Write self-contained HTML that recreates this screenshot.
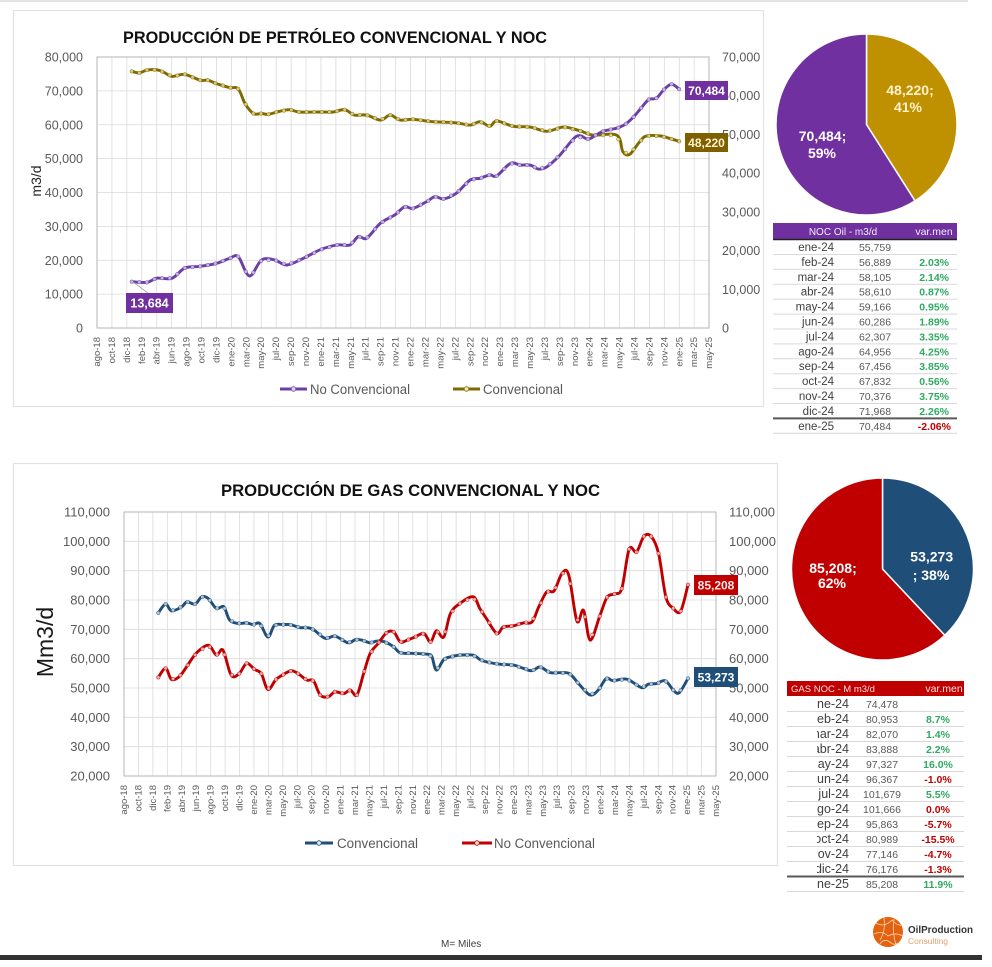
<!DOCTYPE html>
<html><head><meta charset="utf-8"><style>
html,body{margin:0;padding:0;background:#fff;}
svg{display:block;font-family:"Liberation Sans",Arial,sans-serif;}
</style></head><body>
<svg id="s" width="992" height="967" viewBox="0 0 992 967" xmlns="http://www.w3.org/2000/svg">
<rect x="0" y="0" width="992" height="967" fill="#fff"/>
<line x1="0" y1="1" x2="968" y2="1" stroke="#e4e4e4" stroke-width="2"/>
<!-- cards -->
<rect x="13.5" y="10.5" width="750" height="396" fill="#fff" stroke="#e2e2e2" stroke-width="1.2"/>
<rect x="13.5" y="463.5" width="764" height="402" fill="#fff" stroke="#e2e2e2" stroke-width="1.2"/>

<!-- ============ TOP CHART ============ -->
<g id="gridTop"></g>
<rect x="97" y="57" width="612" height="271" fill="none" stroke="#b5b5b5" stroke-width="1"/>
<text x="123" y="43" font-size="17" font-weight="bold" fill="#111" textLength="424" lengthAdjust="spacingAndGlyphs">PRODUCCIÓN DE PETRÓLEO CONVENCIONAL Y  NOC</text>
<g font-size="12.5" fill="#595959" text-anchor="end">
<text x="83" y="332.5">0</text><text x="83" y="298.6">10,000</text><text x="83" y="264.8">20,000</text><text x="83" y="230.9">30,000</text><text x="83" y="197">40,000</text><text x="83" y="163.1">50,000</text><text x="83" y="129.3">60,000</text><text x="83" y="95.4">70,000</text><text x="83" y="61.5">80,000</text>
</g>
<g font-size="12.5" fill="#595959">
<text x="722" y="332.5">0</text><text x="722" y="293.8">10,000</text><text x="722" y="255.1">20,000</text><text x="722" y="216.4">30,000</text><text x="722" y="177.6">40,000</text><text x="722" y="138.9">50,000</text><text x="722" y="100.2">60,000</text><text x="722" y="61.5">70,000</text>
</g>
<text transform="translate(41,181) rotate(-90)" font-size="14" fill="#262626" text-anchor="middle">m3/d</text>
<g transform="translate(100,337) rotate(-90)" font-size="9.5" fill="#595959" text-anchor="end">
<text y="0">ago-18</text><text y="14.93">oct-18</text><text y="29.86">dic-18</text><text y="44.79">feb-19</text><text y="59.72">abr-19</text><text y="74.65">jun-19</text><text y="89.58">ago-19</text><text y="104.51">oct-19</text><text y="119.44">dic-19</text><text y="134.37">ene-20</text><text y="149.3">mar-20</text><text y="164.23">may-20</text><text y="179.16">jul-20</text><text y="194.09">sep-20</text><text y="209.02">nov-20</text><text y="223.95">ene-21</text><text y="238.88">mar-21</text><text y="253.81">may-21</text><text y="268.74">jul-21</text><text y="283.67">sep-21</text><text y="298.6">nov-21</text><text y="313.53">ene-22</text><text y="328.46">mar-22</text><text y="343.39">may-22</text><text y="358.32">jul-22</text><text y="373.25">sep-22</text><text y="388.18">nov-22</text><text y="403.11">ene-23</text><text y="418.04">mar-23</text><text y="432.97">may-23</text><text y="447.9">jul-23</text><text y="462.83">sep-23</text><text y="477.76">nov-23</text><text y="492.69">ene-24</text><text y="507.62">mar-24</text><text y="522.55">may-24</text><text y="537.48">jul-24</text><text y="552.41">sep-24</text><text y="567.34">nov-24</text><text y="582.27">ene-25</text><text y="597.2">mar-25</text><text y="612.13">may-25</text>
</g>
<g id="seriesTop"></g>
<!-- data labels top -->
<line x1="133" y1="282" x2="148" y2="293" stroke="#a6a6a6" stroke-width="0.8"/>
<rect x="126" y="293" width="47" height="20" fill="#7030a0"/>
<text x="149.5" y="307.5" font-size="12.5" font-weight="bold" fill="#fff" text-anchor="middle">13,684</text>
<rect x="685" y="81" width="43" height="19" fill="#7030a0"/>
<text x="706.5" y="95" font-size="12" font-weight="bold" fill="#fff" text-anchor="middle">70,484</text>
<rect x="685" y="133" width="43" height="19" fill="#7f6000"/>
<text x="706.5" y="147" font-size="12" font-weight="bold" fill="#fff2cc" text-anchor="middle">48,220</text>
<!-- legend top -->
<line x1="280" y1="389" x2="307" y2="389" stroke="#6f3fa8" stroke-width="3"/>
<circle cx="293.5" cy="389" r="2.3" fill="#e0d6ee" stroke="#6f3fa8" stroke-width="0.8"/>
<text x="310" y="394" font-size="13.5" fill="#595959" textLength="100" lengthAdjust="spacingAndGlyphs">No Convencional</text>
<line x1="453" y1="389" x2="480" y2="389" stroke="#7f6a00" stroke-width="3"/>
<circle cx="466.5" cy="389" r="2.3" fill="#f2e6b0" stroke="#7f6a00" stroke-width="0.8"/>
<text x="483" y="394" font-size="13.5" fill="#595959" textLength="80" lengthAdjust="spacingAndGlyphs">Convencional</text>

<!-- top pie -->
<path d="M866.5,124.5 L866.5,34 A90.5,90.5 0 0 1 915,200.9 Z" fill="#bf9000" stroke="#fff" stroke-width="1.5"/>
<path d="M866.5,124.5 L915,200.9 A90.5,90.5 0 1 1 866.5,34 Z" fill="#7030a0" stroke="#fff" stroke-width="1.5"/>
<g font-size="14" font-weight="bold" text-anchor="middle">
<text x="910" y="95" fill="#fff2cc">48,220;</text>
<text x="908" y="112" fill="#fff2cc">41%</text>
<text x="822.5" y="141" fill="#fff">70,484;</text>
<text x="822" y="158" fill="#fff">59%</text>
</g>
<!-- top table -->
<rect x="773" y="223" width="184" height="16" fill="#7030a0"/>
<line x1="773" y1="239.5" x2="957" y2="239.5" stroke="#222" stroke-width="1.5"/>
<text x="843" y="235" font-size="10" fill="#f3ecfa" text-anchor="middle">NOC Oil - m3/d</text>
<text x="934" y="235" font-size="10.5" fill="#f3ecfa" text-anchor="middle">var.men</text>
<g stroke="#d9d9d9" stroke-width="1">
<line x1="773" y1="254.5" x2="957" y2="254.5"/><line x1="773" y1="269.4" x2="957" y2="269.4"/><line x1="773" y1="284.3" x2="957" y2="284.3"/><line x1="773" y1="299.2" x2="957" y2="299.2"/><line x1="773" y1="314.1" x2="957" y2="314.1"/><line x1="773" y1="329" x2="957" y2="329"/><line x1="773" y1="343.9" x2="957" y2="343.9"/><line x1="773" y1="358.8" x2="957" y2="358.8"/><line x1="773" y1="373.7" x2="957" y2="373.7"/><line x1="773" y1="388.6" x2="957" y2="388.6"/><line x1="773" y1="403.5" x2="957" y2="403.5"/><line x1="773" y1="433.3" x2="957" y2="433.3"/>
</g>
<line x1="773" y1="418.4" x2="957" y2="418.4" stroke="#595959" stroke-width="2"/>
<g font-size="11.5" fill="#404040" text-anchor="end">
<text x="834" y="251">ene-24</text><text x="834" y="265.9">feb-24</text><text x="834" y="280.8">mar-24</text><text x="834" y="295.7">abr-24</text><text x="834" y="310.6">may-24</text><text x="834" y="325.5">jun-24</text><text x="834" y="340.4">jul-24</text><text x="834" y="355.3">ago-24</text><text x="834" y="370.2">sep-24</text><text x="834" y="385.1">oct-24</text><text x="834" y="400">nov-24</text><text x="834" y="414.9">dic-24</text><text x="834" y="429.8">ene-25</text>
</g>
<g font-size="10.5" fill="#595959" text-anchor="middle">
<text x="875" y="251">55,759</text><text x="875" y="265.9">56,889</text><text x="875" y="280.8">58,105</text><text x="875" y="295.7">58,610</text><text x="875" y="310.6">59,166</text><text x="875" y="325.5">60,286</text><text x="875" y="340.4">62,307</text><text x="875" y="355.3">64,956</text><text x="875" y="370.2">67,456</text><text x="875" y="385.1">67,832</text><text x="875" y="400">70,376</text><text x="875" y="414.9">71,968</text><text x="875" y="429.8">70,484</text>
</g>
<g font-size="10.5" font-weight="bold" fill="#2eaa62" text-anchor="end">
<text x="949" y="265.9">2.03%</text><text x="949" y="280.8">2.14%</text><text x="949" y="295.7">0.87%</text><text x="949" y="310.6">0.95%</text><text x="949" y="325.5">1.89%</text><text x="949" y="340.4">3.35%</text><text x="949" y="355.3">4.25%</text><text x="949" y="370.2">3.85%</text><text x="949" y="385.1">0.56%</text><text x="949" y="400">3.75%</text><text x="949" y="414.9">2.26%</text>
<text x="951" y="429.8" fill="#c00000">-2.06%</text>
</g>

<!-- ============ BOTTOM CHART ============ -->
<g id="gridBot"></g>
<rect x="124" y="512" width="592" height="264" fill="none" stroke="#b5b5b5" stroke-width="1"/>
<text x="221" y="496" font-size="16.5" font-weight="bold" fill="#111" textLength="379" lengthAdjust="spacingAndGlyphs">PRODUCCIÓN DE GAS CONVENCIONAL Y  NOC</text>
<g font-size="13" fill="#595959" text-anchor="end">
<text x="110" y="780.5">20,000</text><text x="110" y="751.2">30,000</text><text x="110" y="721.8">40,000</text><text x="110" y="692.5">50,000</text><text x="110" y="663.2">60,000</text><text x="110" y="633.8">70,000</text><text x="110" y="604.5">80,000</text><text x="110" y="575.2">90,000</text><text x="110" y="545.8">100,000</text><text x="110" y="516.5">110,000</text>
</g>
<g font-size="13" fill="#595959">
<text x="729" y="780.5">20,000</text><text x="729" y="751.2">30,000</text><text x="729" y="721.8">40,000</text><text x="729" y="692.5">50,000</text><text x="729" y="663.2">60,000</text><text x="729" y="633.8">70,000</text><text x="729" y="604.5">80,000</text><text x="729" y="575.2">90,000</text><text x="729" y="545.8">100,000</text><text x="729" y="516.5">110,000</text>
</g>
<text transform="translate(53,642) rotate(-90)" font-size="23" fill="#1a1a1a" text-anchor="middle">Mm3/d</text>
<g transform="translate(127,785) rotate(-90)" font-size="9.5" fill="#595959" text-anchor="end">
<text y="0">ago-18</text><text y="14.44">oct-18</text><text y="28.88">dic-18</text><text y="43.32">feb-19</text><text y="57.76">abr-19</text><text y="72.2">jun-19</text><text y="86.64">ago-19</text><text y="101.08">oct-19</text><text y="115.52">dic-19</text><text y="129.96">ene-20</text><text y="144.4">mar-20</text><text y="158.84">may-20</text><text y="173.28">jul-20</text><text y="187.72">sep-20</text><text y="202.16">nov-20</text><text y="216.6">ene-21</text><text y="231.04">mar-21</text><text y="245.48">may-21</text><text y="259.92">jul-21</text><text y="274.36">sep-21</text><text y="288.8">nov-21</text><text y="303.24">ene-22</text><text y="317.68">mar-22</text><text y="332.12">may-22</text><text y="346.56">jul-22</text><text y="361">sep-22</text><text y="375.44">nov-22</text><text y="389.88">ene-23</text><text y="404.32">mar-23</text><text y="418.76">may-23</text><text y="433.2">jul-23</text><text y="447.64">sep-23</text><text y="462.08">nov-23</text><text y="476.52">ene-24</text><text y="490.96">mar-24</text><text y="505.4">may-24</text><text y="519.84">jul-24</text><text y="534.28">sep-24</text><text y="548.72">nov-24</text><text y="563.16">ene-25</text><text y="577.6">mar-25</text><text y="592.04">may-25</text>
</g>
<g id="seriesBot"></g>
<rect x="694" y="575" width="44" height="20" fill="#c00000"/>
<text x="716" y="589.5" font-size="12" font-weight="bold" fill="#fde9e9" text-anchor="middle">85,208</text>
<rect x="694" y="667" width="44" height="20" fill="#1f4e79"/>
<text x="716" y="681.5" font-size="12" font-weight="bold" fill="#fff" text-anchor="middle">53,273</text>
<!-- legend bottom -->
<line x1="305" y1="843" x2="333" y2="843" stroke="#1f4e79" stroke-width="3"/>
<circle cx="319" cy="843" r="2.3" fill="#dfe8f1" stroke="#1f4e79" stroke-width="0.8"/>
<text x="337" y="848" font-size="13.5" fill="#595959" textLength="81" lengthAdjust="spacingAndGlyphs">Convencional</text>
<line x1="462" y1="843" x2="492" y2="843" stroke="#c00000" stroke-width="3"/>
<circle cx="477" cy="843" r="2.3" fill="#f6dcdc" stroke="#c00000" stroke-width="0.8"/>
<text x="494" y="848" font-size="13.5" fill="#595959" textLength="101" lengthAdjust="spacingAndGlyphs">No Convencional</text>

<!-- bottom pie -->
<path d="M882.5,569 L882.5,478 A91,91 0 0 1 944.8,635.3 Z" fill="#1f4e79" stroke="#fff" stroke-width="1.5"/>
<path d="M882.5,569 L944.8,635.3 A91,91 0 1 1 882.5,478 Z" fill="#c00000" stroke="#fff" stroke-width="1.5"/>
<g font-size="14" font-weight="bold" text-anchor="middle" fill="#fff">
<text x="931.7" y="561.5">53,273</text>
<text x="931" y="580">; 38%</text>
<text x="833" y="573">85,208;</text>
<text x="832" y="588">62%</text>
</g>
<!-- bottom table -->
<rect x="787" y="681" width="177" height="15" fill="#c00000"/>
<text x="833" y="692" font-size="9.5" fill="#fbe3e3" text-anchor="middle">GAS NOC - M m3/d</text>
<text x="944" y="692" font-size="10.5" fill="#fbe3e3" text-anchor="middle">var.men</text>
<g stroke="#d9d9d9" stroke-width="1">
<line x1="787" y1="711.5" x2="964" y2="711.5"/><line x1="787" y1="726.5" x2="964" y2="726.5"/><line x1="787" y1="741.5" x2="964" y2="741.5"/><line x1="787" y1="756.5" x2="964" y2="756.5"/><line x1="787" y1="771.5" x2="964" y2="771.5"/><line x1="787" y1="786.5" x2="964" y2="786.5"/><line x1="787" y1="801.5" x2="964" y2="801.5"/><line x1="787" y1="816.5" x2="964" y2="816.5"/><line x1="787" y1="831.5" x2="964" y2="831.5"/><line x1="787" y1="846.5" x2="964" y2="846.5"/><line x1="787" y1="861.5" x2="964" y2="861.5"/><line x1="787" y1="891.5" x2="964" y2="891.5"/>
</g>
<line x1="787" y1="876.5" x2="964" y2="876.5" stroke="#595959" stroke-width="2"/>
<clipPath id="cm"><rect x="817" y="695" width="40" height="200"/></clipPath>
<g font-size="12.5" fill="#404040" text-anchor="end" clip-path="url(#cm)">
<text x="849" y="708">ene-24</text><text x="849" y="723">feb-24</text><text x="849" y="738">mar-24</text><text x="849" y="753">abr-24</text><text x="849" y="768">may-24</text><text x="849" y="783">jun-24</text><text x="849" y="798">jul-24</text><text x="849" y="813">ago-24</text><text x="849" y="828">sep-24</text><text x="849" y="843">oct-24</text><text x="849" y="858">nov-24</text><text x="849" y="873">dic-24</text><text x="849" y="888">ene-25</text>
</g>
<g font-size="10.5" fill="#595959" text-anchor="middle">
<text x="882" y="708">74,478</text><text x="882" y="723">80,953</text><text x="882" y="738">82,070</text><text x="882" y="753">83,888</text><text x="882" y="768">97,327</text><text x="882" y="783">96,367</text><text x="882" y="798">101,679</text><text x="882" y="813">101,666</text><text x="882" y="828">95,863</text><text x="882" y="843">80,989</text><text x="882" y="858">77,146</text><text x="882" y="873">76,176</text><text x="882" y="888">85,208</text>
</g>
<g font-size="10.5" font-weight="bold" text-anchor="middle">
<text x="938" y="723" fill="#2eaa62">8.7%</text><text x="938" y="738" fill="#2eaa62">1.4%</text><text x="938" y="753" fill="#2eaa62">2.2%</text><text x="938" y="768" fill="#2eaa62">16.0%</text><text x="938" y="783" fill="#c00000">-1.0%</text><text x="938" y="798" fill="#2eaa62">5.5%</text><text x="938" y="813" fill="#c00000">0.0%</text><text x="938" y="828" fill="#c00000">-5.7%</text><text x="938" y="843" fill="#c00000">-15.5%</text><text x="938" y="858" fill="#c00000">-4.7%</text><text x="938" y="873" fill="#c00000">-1.3%</text><text x="938" y="888" fill="#2eaa62">11.9%</text>
</g>

<!-- footer -->
<text x="441" y="947" font-size="10" fill="#404040">M= Miles</text>
<circle cx="888" cy="932" r="15" fill="#e2620f"/>
<g fill="none" stroke="#f7c9a0" stroke-width="0.9">
<path d="M876,923 Q884,928 892,920 Q897,926 902,925"/>
<path d="M874,934 Q882,930 888,936 Q895,932 903,936"/>
<path d="M880,944 Q884,938 890,942 Q894,946 898,943"/>
<path d="M884,918 Q886,930 880,940"/>
<path d="M894,919 Q892,932 896,945"/>
</g>
<text x="908" y="933" font-size="10.5" font-weight="bold" fill="#333" textLength="65" lengthAdjust="spacingAndGlyphs">OilProduction</text>
<text x="908" y="944" font-size="8.5" fill="#e8a070" textLength="40" lengthAdjust="spacingAndGlyphs">Consulting</text>
<rect x="0" y="955" width="982" height="5" fill="#333"/>
</svg>
<script>
(function(){
var NS='http://www.w3.org/2000/svg';
function el(tag,attrs,parent){var e=document.createElementNS(NS,tag);for(var k in attrs)e.setAttribute(k,attrs[k]);parent.appendChild(e);return e;}
var gt=document.getElementById('gridTop');
for(var i=1;i<41;i++){var x=97+i*14.93;el('line',{x1:x,y1:57,x2:x,y2:328,stroke:'#dadada','stroke-width':0.8},gt);}
for(var k=1;k<8;k++){var y=328-k*33.875;el('line',{x1:97,y1:y,x2:709,y2:y,stroke:'#dadada','stroke-width':0.8},gt);}
var gb=document.getElementById('gridBot');
for(var i=1;i<41;i++){var x=124+i*14.44;el('line',{x1:x,y1:512,x2:x,y2:776,stroke:'#dadada','stroke-width':0.8},gb);}
for(var k=1;k<9;k++){var y=776-k*29.333;el('line',{x1:124,y1:y,x2:716,y2:y,stroke:'#dadada','stroke-width':0.8},gb);}

function interp(keys,m){var j=0;while(j<keys.length-2&&keys[j+1][0]<m)j++;var a=keys[j],b=keys[j+1];var t=(m-a[0])/(b[0]-a[0]);t=Math.max(0,Math.min(1,t));return a[1]+(b[1]-a[1])*t;}
function pathD(p){var d='M'+p[0][0].toFixed(1)+','+p[0][1].toFixed(1);for(var i=0;i<p.length-1;i++){var p0=p[i-1]||p[i],p1=p[i],p2=p[i+1],p3=p[i+2]||p2;var c1x=p1[0]+(p2[0]-p0[0])/6,c1y=p1[1]+(p2[1]-p0[1])/6,c2x=p2[0]-(p3[0]-p1[0])/6,c2y=p2[1]-(p3[1]-p1[1])/6;d+=' C'+c1x.toFixed(1)+','+c1y.toFixed(1)+' '+c2x.toFixed(1)+','+c2y.toFixed(1)+' '+p2[0].toFixed(1)+','+p2[1].toFixed(1);}return d;}
function draw(g,keys,fx,fy,col,mk){
 var pts=keys.map(function(k){return [fx(k[0]),fy(k[1])];});
 el('path',{d:pathD(pts),fill:'none',stroke:col,'stroke-width':2.9,'stroke-linejoin':'round','stroke-linecap':'round'},g);
 for(var m=0;m<=72;m++){el('circle',{cx:fx(m),cy:fy(interp(keys,m)),r:1.8,fill:mk,stroke:col,'stroke-width':0.5,'fill-opacity':0.8},g);}
}
var purple=[[0,13684],[2,13450],[3.3,14700],[5.3,14700],[7,17700],[9,18200],[11.2,19100],[12.9,20600],[14,21100],[15.1,16200],[15.8,15700],[17.1,20100],[18.8,20100],[20.4,18600],[22.6,20600],[24.8,23100],[27,24500],[28.7,24500],[29.8,27000],[30.9,26500],[32.7,30900],[34.6,33400],[35.9,35800],[37,35300],[38.8,37300],[39.9,38800],[41,38100],[42.7,39800],[44.5,43700],[45.8,44200],[47.1,45200],[48,44900],[49.8,48600],[51.1,48100],[52.4,48100],[53.5,46900],[54.6,47600],[56.3,51000],[58.5,56600],[60,55759],[61,56889],[62,58105],[63,58610],[64,59166],[65,60286],[66,62307],[67,64956],[68,67456],[69,67832],[70,70376],[71,71968],[72,70484]];
var olive=[[0,66300],[1,65900],[2,66600],[3.3,66700],[4.2,66100],[5.3,65000],[7,65500],[9,64000],[10,64000],[11.2,63100],[12.9,62100],[14,61800],[14.9,58000],[16,55400],[17.1,55400],[18,55200],[19.5,56000],[20.8,56400],[22,55800],[24.8,55800],[26.5,55800],[28,56400],[29.3,55000],[30.9,55000],[32.7,53700],[34,55000],[35.3,53700],[37,53900],[39.6,53300],[42.7,53000],[44.5,52400],[45.8,53300],[47.1,52100],[48,53500],[50.2,52100],[52.4,51900],[54.6,50800],[56.8,51900],[59,50900],[60.7,49800],[63.8,49800],[64.6,45500],[65.5,44900],[66.8,48100],[67.7,49600],[69.6,49600],[70.7,49000],[72,48220]];
var blue=[[0,75600],[1,78600],[1.8,76300],[3.2,77700],[3.9,79400],[5,78600],[5.9,81100],[6.8,80500],[7.9,77100],[8.9,77700],[9.7,73100],[10.9,72000],[12,72200],[12.9,71600],[13.8,72000],[14.9,67400],[15.8,71400],[17,71600],[17.9,71600],[19.3,70600],[20.2,70600],[21.1,69900],[22.7,66900],[24,67700],[25.8,65400],[26.8,66500],[27.7,66300],[28.8,65400],[29.7,66000],[30.8,65700],[32,64000],[32.9,62000],[34.7,61800],[36.7,61500],[37.2,60600],[37.8,56100],[38.8,59700],[39.7,60600],[41,61200],[42.8,61200],[43.7,59700],[44.6,58900],[46.4,58100],[48.3,57800],[49.6,56700],[50.8,55900],[51.9,57200],[53.2,55300],[54.6,55200],[55.9,54900],[57.3,51000],[58.7,47600],[59.8,49300],[60.9,53300],[61.8,52500],[63.7,53000],[65.7,50100],[66.6,51300],[67.7,51500],[68.9,52500],[70,49300],[70.8,48400],[72,53273]];
var red=[[0,53600],[1,56700],[1.8,52900],[2.9,54000],[4,57800],[5.2,62000],[6.8,64600],[7.9,61200],[8.8,62900],[9.9,54400],[11,54900],[12,58400],[13.1,56300],[14,54900],[14.9,49500],[16,52900],[17.2,54900],[18.1,55900],[19,54900],[20.2,52700],[21.1,52500],[22,47600],[23.1,47000],[24,48700],[25.2,48100],[26.1,49300],[27,47600],[27.9,54900],[28.8,61800],[29.9,65200],[31,68800],[32,69100],[32.9,65700],[33.8,66300],[34.9,67400],[36.1,68600],[37,65700],[37.8,69500],[38.8,67400],[39.7,75400],[41,78800],[42.8,81100],[43.7,77100],[44.6,73700],[46,68600],[46.9,70800],[48.3,71200],[49.6,72200],[50.8,72500],[51.7,77600],[52.8,82800],[53.8,83100],[54.9,89200],[55.8,88400],[56.9,72800],[57.8,76500],[58.7,66300],[60,74478],[61,80953],[62,82070],[63,83888],[64,97327],[65,96367],[66,101679],[67,101666],[68,95863],[69,80989],[70,77146],[71,76176],[72,85208]];
var st=document.getElementById('seriesTop'),sb=document.getElementById('seriesBot');
function xT(m){return 131.7+m*7.604;}
draw(st,olive,xT,function(v){return 328-v/70000*271;},'#7f6a00','#f0e2a0');
draw(st,purple,xT,function(v){return 328-v/80000*271;},'#6a3fa6','#ddd2ee');
function xB(m){return 158.3+m*7.357;}
function yB(v){return 776-(v-20000)/90000*264;}
draw(sb,blue,xB,yB,'#1f4e79','#d6e2ee');
draw(sb,red,xB,yB,'#c00000','#f4d4d4');
})();
</script>
</body></html>
